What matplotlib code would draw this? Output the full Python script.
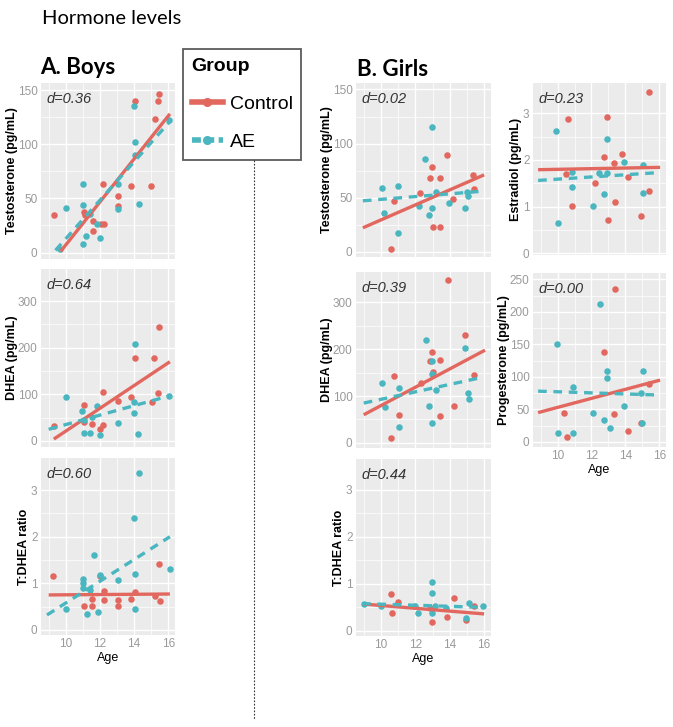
import numpy as np
import matplotlib
matplotlib.use('Agg')
import matplotlib.pyplot as plt
from matplotlib.lines import Line2D

plt.rcParams['font.family'] = ['Liberation Sans', 'DejaVu Sans']

CTRL = '#E2675F'
AE = '#4AB6BF'

# ---- boys: testosterone ----
boys_t_ctrl_age = [9.34, 14.04, 15.44, 15.4, 15.2, 15.0, 13.8, 12.2, 13.04, 13.04, 11.04, 11.1, 11.6, 11.6, 12.04, 12.24]
boys_t_ctrl_val = [35, 140, 146, 140, 123, 61, 61, 63, 52, 43, 37, 35, 29, 20, 26, 26]
boys_t_ae_age = [10.0, 11.0, 11.0, 11.4, 11.0, 11.2, 12.0, 11.84, 13.04, 13.04, 14.0, 14.04, 14.04, 14.28, 16.04, 9.64]
boys_t_ae_val = [41, 63, 44, 36, 8, 15, 13, 26, 40, 63, 135, 102, 90, 45, 122, 3]
boys_t_fit = [(9.7, 1, 16.1, 128), (9.4, 2, 16.1, 121)]

# ---- boys: DHEA ----
boys_d_ctrl_age = [9.34, 11.04, 11.54, 12.2, 12.2, 13.04, 13.8, 14.04, 15.16, 15.48, 15.4, 15.04, 11.04, 12.0]
boys_d_ctrl_val = [32, 78, 36, 104, 34, 85, 95, 177, 179, 245, 102, 84, 41, 25]
boys_d_ae_age = [10.0, 10.94, 11.84, 11.54, 11.04, 14.04, 14.0, 14.0, 13.04, 16.04, 11.04, 11.44, 12.0, 14.24]
boys_d_ae_val = [95, 64, 74, 52, 45, 208, 84, 59, 38, 96, 16, 16, 13, 15]
boys_d_fit = [(9.3, 4, 16.1, 170), (9.0, 25, 16.1, 97)]

# ---- boys: T:DHEA ratio ----
boys_r_ctrl_age = [9.28, 12.0, 15.44, 11.04, 11.54, 11.54, 12.24, 12.24, 13.04, 13.04, 13.8, 14.04, 15.2, 15.54]
boys_r_ctrl_val = [1.16, 1.16, 1.41, 0.52, 0.52, 0.66, 0.84, 0.64, 0.64, 0.51, 0.67, 0.82, 0.72, 0.62]
boys_r_ae_age = [14.28, 14.0, 11.64, 11.0, 11.0, 11.0, 12.0, 13.04, 14.04, 16.1, 11.4, 14.04, 10.0, 11.24, 11.9]
boys_r_ae_val = [3.36, 2.41, 1.61, 1.1, 1.0, 0.9, 1.18, 1.07, 1.21, 1.31, 0.86, 0.44, 0.44, 0.34, 0.38]
boys_r_fit = [(9.0, 0.75, 16.1, 0.77), (8.9, 0.32, 16.1, 2.0)]

# ---- girls: testosterone ----
girls_t_ctrl_age = [10.6, 10.77, 12.27, 12.85, 12.98, 13.04, 13.46, 13.42, 13.85, 14.19, 15.38, 15.42]
girls_t_ctrl_val = [2, 47, 54, 68, 78, 23, 23, 68, 89, 49, 71, 58]
girls_t_ae_age = [10.04, 10.19, 11.02, 11.02, 12.21, 12.54, 12.98, 12.79, 12.98, 13.23, 13.94, 14.9, 15.0, 15.04]
girls_t_ae_val = [59, 36, 61, 17, 42, 86, 115, 34, 40, 55, 45, 40, 55, 51]
girls_t_fit = [(8.95, 22, 16.0, 71), (8.95, 47, 16.0, 56)]

# ---- girls: DHEA ----
girls_d_ctrl_age = [13.9, 14.9, 15.42, 12.98, 12.88, 13.46, 13.04, 12.31, 10.77, 11.06, 10.6, 13.46, 14.23]
girls_d_ctrl_val = [347, 230, 145, 195, 174, 177, 152, 128, 143, 60, 11, 58, 78]
girls_d_ae_age = [12.6, 10.06, 10.23, 11.06, 11.06, 12.98, 12.98, 13.23, 12.79, 12.98, 14.9, 15.04, 15.1]
girls_d_ae_val = [220, 128, 77, 117, 33, 174, 147, 112, 78, 43, 202, 106, 94]
girls_d_fit = [(9.0, 60, 16.05, 198), (9.0, 85, 15.9, 140)]

# ---- girls: T:DHEA ratio ----
girls_r_ctrl_age = [10.58, 10.67, 11.0, 12.98, 13.85, 14.23, 14.96, 15.42, 12.85]
girls_r_ctrl_val = [0.78, 0.38, 0.62, 0.18, 0.30, 0.69, 0.23, 0.53, 0.48]
girls_r_ae_age = [12.98, 12.98, 9.0, 10.0, 12.15, 12.98, 13.17, 13.81, 14.96, 15.1, 12.0, 15.96]
girls_r_ae_val = [1.05, 0.80, 0.57, 0.52, 0.39, 0.38, 0.53, 0.48, 0.27, 0.60, 0.52, 0.52]
girls_r_fit = [(9.0, 0.57, 16.0, 0.36), (8.9, 0.58, 16.0, 0.50)]

# ---- girls: estradiol ----
girls_e_ctrl_age = [15.4, 10.59, 12.89, 12.77, 13.8, 13.32, 14.14, 12.19, 10.49, 10.88, 13.41, 12.97, 14.92, 15.42]
girls_e_ctrl_val = [3.46, 2.88, 2.91, 2.07, 2.12, 1.93, 1.64, 1.51, 1.70, 1.02, 1.09, 0.71, 0.80, 1.34]
girls_e_ae_age = [9.9, 12.89, 13.9, 15.07, 10.88, 10.88, 12.44, 12.89, 12.73, 12.11, 10.04, 15.03]
girls_e_ae_val = [2.61, 2.44, 1.96, 1.89, 1.75, 1.41, 1.71, 1.71, 1.27, 1.02, 0.64, 1.29]
girls_e_fit = [(8.85, 1.79, 16.05, 1.84), (8.85, 1.56, 16.05, 1.73)]

# ---- girls: progesterone ----
girls_p_ctrl_age = [13.38, 12.77, 10.39, 10.55, 13.32, 14.14, 14.92, 15.42]
girls_p_ctrl_val = [235, 138, 45, 7, 43, 17, 29, 89]
girls_p_ae_age = [12.48, 9.94, 12.89, 12.89, 15.03, 10.94, 10.04, 10.94, 12.11, 12.73, 13.12, 13.9, 14.92, 14.98]
girls_p_ae_val = [212, 150, 109, 99, 109, 84, 13, 14, 45, 34, 22, 55, 75, 29]
girls_p_fit = [(8.85, 45, 16.05, 95), (8.85, 78, 16.05, 72)]

W, H = 673, 727
fig = plt.figure(figsize=(W / 100, H / 100), dpi=100)


def box(x0, y0, x1, y1):
    return [x0 / W, 1 - y1 / H, (x1 - x0) / W, (y1 - y0) / H]


def panel(rect, ca, cv, aa, av, fit, d, ylabel, yticks, ylim, lab_x, show_x):
    ax = fig.add_axes(box(*rect))
    ax.set_facecolor('#EBEBEB')
    for s in ax.spines.values():
        s.set_visible(False)
    ax.set_xlim(8.55, 16.4)
    ax.set_ylim(*ylim)
    ax.set_xticks([10, 12, 14, 16])
    ax.set_xticks([9, 11, 13, 15], minor=True)
    ax.set_yticks(yticks)
    mids = [(a + b) / 2 for a, b in zip(yticks[:-1], yticks[1:])]
    ax.set_yticks(mids, minor=True)
    ax.grid(which='major', color='white', lw=1.0)
    ax.grid(which='minor', color='white', lw=0.5)
    ax.set_axisbelow(True)
    ax.tick_params(which='both', length=0, labelcolor='#9A9A9A', labelsize=8.5, pad=2.5)
    ax.scatter(ca, cv, s=22, color=CTRL, zorder=3, lw=0)
    ax.scatter(aa, av, s=22, color=AE, zorder=3, lw=0)
    c, a = fit
    ax.plot([c[0], c[2]], [c[1], c[3]], color=CTRL, lw=2.4, zorder=4, solid_capstyle='butt')
    ax.plot([a[0], a[2]], [a[1], a[3]], color=AE, lw=2.4, ls=(0, (2.6, 2.0)), zorder=4)
    ax.text(0.04, 0.95, 'd=' + d, transform=ax.transAxes, ha='left', va='top',
            fontsize=10.5, style='italic', color='#333333')
    ax.set_ylabel(ylabel, fontsize=9, fontweight='bold', color='black')
    ax.yaxis.set_label_coords(lab_x, 0.5)
    if show_x:
        ax.set_xlabel('Age', fontsize=9, color='black', labelpad=1)
    else:
        ax.set_xticklabels([])
    return ax


# boys column
panel((41, 83, 175, 259), boys_t_ctrl_age, boys_t_ctrl_val, boys_t_ae_age, boys_t_ae_val, boys_t_fit,
      '0.36', 'Testosterone (pg/mL)', [0, 50, 100, 150], (-6, 156.5), -0.175, False)
panel((41, 269, 175, 447), boys_d_ctrl_age, boys_d_ctrl_val, boys_d_ae_age, boys_d_ae_val, boys_d_fit,
      '0.64', 'DHEA (pg/mL)', [0, 100, 200, 300], (-13, 369), -0.175, False)
panel((41, 458, 175, 635), boys_r_ctrl_age, boys_r_ctrl_val, boys_r_ae_age, boys_r_ae_val, boys_r_fit,
      '0.60', 'T:DHEA ratio', [0, 1, 2, 3], (-0.11, 3.69), -0.08, True)

# girls column 1
panel((356, 83, 491, 257), girls_t_ctrl_age, girls_t_ctrl_val, girls_t_ae_age, girls_t_ae_val, girls_t_fit,
      '0.02', 'Testosterone (pg/mL)', [0, 50, 100, 150], (-5, 156), -0.174, False)
panel((356, 272, 491, 448), girls_d_ctrl_age, girls_d_ctrl_val, girls_d_ae_age, girls_d_ae_val, girls_d_fit,
      '0.39', 'DHEA (pg/mL)', [0, 100, 200, 300], (-11, 365), -0.174, False)
panel((356, 459, 491, 636), girls_r_ctrl_age, girls_r_ctrl_val, girls_r_ae_age, girls_r_ae_val, girls_r_fit,
      '0.44', 'T:DHEA ratio', [0, 1, 2, 3], (-0.11, 3.66), -0.08, True)

# girls column 2
panel((533, 83, 666, 255), girls_e_ctrl_age, girls_e_ctrl_val, girls_e_ae_age, girls_e_ae_val, girls_e_fit,
      '0.23', 'Estradiol (pg/mL)', [0, 1, 2, 3], (-0.04, 3.65), -0.08, False)
panel((533, 273, 666, 447), girls_p_ctrl_age, girls_p_ctrl_val, girls_p_ae_age, girls_p_ae_val, girls_p_fit,
      '0.00', 'Progesterone (pg/mL)', [0, 50, 100, 150, 200, 250], (-8, 260), -0.176, True)

# titles
fig.text(42 / W, 1 - 18 / H, 'Hormone levels', fontsize=14.5, family=['Lato', 'DejaVu Sans'],
         ha='left', va='center')
fig.text(40 / W, 1 - 68 / H, 'A. Boys', fontsize=16, fontweight='bold', family=['Lato', 'DejaVu Sans'],
         ha='left', va='center')
fig.text(357 / W, 1 - 70 / H, 'B. Girls', fontsize=16, fontweight='bold', family=['Lato', 'DejaVu Sans'],
         ha='left', va='center')

# legend
handles = [Line2D([], [], color=CTRL, lw=4, marker='o', markersize=5.5),
           Line2D([], [], color=AE, lw=4, ls=(0, (1.6, 0.8)), marker='o', markersize=5.5)]
leg = fig.legend(handles, ['Control', 'AE'], title='Group', loc='upper left',
                 bbox_to_anchor=(183 / W, 1 - 49 / H), borderaxespad=0, frameon=True, fancybox=False,
                 edgecolor='#333333', fontsize=14, title_fontsize=14, handlelength=1.6,
                 handletextpad=0.35, borderpad=0.45, labelspacing=1.05, alignment='left')
leg.get_title().set_fontweight('bold')
leg.get_frame().set_linewidth(1.3)

# divider
fig.add_artist(Line2D([254 / W, 254 / W], [1 - 160 / H, 1 - 720 / H], color='#333333',
                      lw=0.8, ls=(0, (1.5, 1.5))))

fig.savefig('out.png', dpi=100)
